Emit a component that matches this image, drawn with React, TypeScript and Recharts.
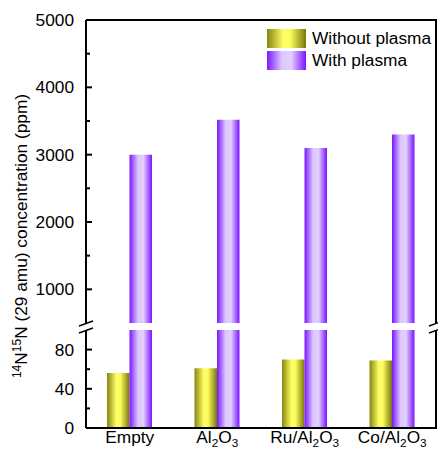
import { BarChart, Bar, XAxis, YAxis } from 'recharts'

const categories = ['Empty', 'Al2O3', 'Ru/Al2O3', 'Co/Al2O3']
const withoutPlasma = [56, 61, 70, 69]
const withPlasma = [3000, 3520, 3100, 3300]

const upperTicks = [1000, 1500, 2000, 2500, 3000, 3500, 4000, 4500, 5000]
const upperMajor = [1000, 2000, 3000, 4000, 5000]
const lowerTicks = [0, 20, 40, 60, 80]
const lowerMajor = [0, 40, 80]

const AXIS_X = 86
const RIGHT_X = 436
const FS = 17.3
const FONT = 'Arial, "Liberation Sans", sans-serif'

const upperData = categories.map((name, i) => ({ name, without: null, with: withPlasma[i] }))
const lowerData = categories.map((name, i) => ({ name, without: withoutPlasma[i], with: withPlasma[i] }))

const makeYTick = (major: number[]) => (props: any) => {
  const { y, payload } = props
  const isMajor = major.includes(payload.value)
  return (
    <g>
      <line x1={AXIS_X} x2={AXIS_X + (isMajor ? 6 : 4)} y1={y} y2={y} stroke="#000" strokeWidth={2} />
      {isMajor && (
        <text x={74} y={y + 6} textAnchor="end" fontSize={FS} fontFamily={FONT} fill="#000">
          {payload.value}
        </text>
      )}
    </g>
  )
}

// split "Al2O3" into text with subscript digits
const renderChem = (label: string, size: number) => {
  const parts = label.match(/\d+|\D+/g) || []
  let shifted = false
  return parts.map((p, i) => {
    if (/\d/.test(p)) {
      shifted = true
      return (
        <tspan key={i} fontSize={size * 0.68} dy={4}>
          {p}
        </tspan>
      )
    }
    const dy = shifted ? -4 : 0
    shifted = false
    return (
      <tspan key={i} dy={dy}>
        {p}
      </tspan>
    )
  })
}

const XTick = (props: any) => {
  const { x, y, payload } = props
  return (
    <text x={x} y={y + 11} textAnchor="middle" fontSize={FS} fontFamily={FONT} fill="#000">
      {renderChem(payload.value, FS)}
    </text>
  )
}

const Defs = () => (
  <defs>
    <linearGradient id="gYellow" x1="0" y1="0" x2="1" y2="0">
      <stop offset="0%" stopColor="#86860f" />
      <stop offset="42%" stopColor="#ffff66" />
      <stop offset="60%" stopColor="#fbfb5e" />
      <stop offset="100%" stopColor="#77770a" />
    </linearGradient>
    <linearGradient id="gPurple" x1="0" y1="0" x2="1" y2="0">
      <stop offset="0%" stopColor="#7a18ff" />
      <stop offset="38%" stopColor="#dcc6ff" />
      <stop offset="62%" stopColor="#e2d0ff" />
      <stop offset="100%" stopColor="#7a14ff" />
    </linearGradient>
  </defs>
)

const legendItems = [
  { label: 'Without plasma', bg: 'linear-gradient(90deg, #86860f 0%, #ffff66 42%, #fbfb5e 60%, #77770a 100%)' },
  { label: 'With plasma', bg: 'linear-gradient(90deg, #7a18ff 0%, #dcc6ff 38%, #e2d0ff 62%, #7a14ff 100%)' },
]

export default function App() {
  return (
    <div style={{ position: 'absolute', left: 0, top: 0, width: 438, height: 450, background: '#fff', fontFamily: FONT }}>
      <div style={{ position: 'absolute', left: 0, top: 0 }}>
        <BarChart width={438} height={323} data={upperData} margin={{ top: 20, right: 438 - RIGHT_X, bottom: 0, left: 0 }} barSize={22.5} barGap={0}>
          <Defs />
          <XAxis dataKey="name" hide />
          <YAxis
            width={AXIS_X}
            domain={[500, 5000]}
            ticks={upperTicks}
            interval={0}
            allowDataOverflow
            axisLine={{ stroke: '#000', strokeWidth: 2 }}
            tickLine={false}
            tick={makeYTick(upperMajor)}
          />
          <Bar dataKey="without" fill="url(#gYellow)" isAnimationActive={false} />
          <Bar dataKey="with" fill="url(#gPurple)" isAnimationActive={false} />
        </BarChart>
      </div>
      <div style={{ position: 'absolute', left: 0, top: 323 }}>
        <BarChart width={438} height={127} data={lowerData} margin={{ top: 7, right: 438 - RIGHT_X, bottom: 0, left: 0 }} barSize={22.5} barGap={0}>
          <Defs />
          <XAxis
            dataKey="name"
            height={22}
            axisLine={{ stroke: '#000', strokeWidth: 2 }}
            tickLine={false}
            tickSize={0}
            tickMargin={4}
            interval={0}
            tick={<XTick />}
          />
          <YAxis
            width={AXIS_X}
            domain={[0, 100]}
            ticks={lowerTicks}
            interval={0}
            allowDataOverflow
            axisLine={{ stroke: '#000', strokeWidth: 2 }}
            tickLine={false}
            tick={makeYTick(lowerMajor)}
          />
          <Bar dataKey="without" fill="url(#gYellow)" isAnimationActive={false} />
          <Bar dataKey="with" fill="url(#gPurple)" isAnimationActive={false} />
        </BarChart>
      </div>
      <svg width={438} height={450} style={{ position: 'absolute', left: 0, top: 0, pointerEvents: 'none' }}>
        <line x1={AXIS_X} x2={RIGHT_X + 1} y1={20} y2={20} stroke="#000" strokeWidth={2} />
        <line x1={RIGHT_X} x2={RIGHT_X} y1={20} y2={323} stroke="#000" strokeWidth={2} />
        <line x1={RIGHT_X} x2={RIGHT_X} y1={330} y2={429} stroke="#000" strokeWidth={2} />
        {[AXIS_X, RIGHT_X].map((cx) => (
          <g key={cx} stroke="#000" strokeWidth={1.5}>
            <line x1={cx - 7} y1={326} x2={cx + 7} y2={321} />
            <line x1={cx - 7} y1={333} x2={cx + 7} y2={328} />
          </g>
        ))}
        <text transform="translate(27,236) rotate(-90)" textAnchor="middle" fontSize={FS} fontFamily={FONT} fill="#000">
          <tspan fontSize={12} dy={-6}>14</tspan>
          <tspan dy={6}>N</tspan>
          <tspan fontSize={12} dy={-6}>15</tspan>
          <tspan dy={6}>N (29 amu) concentration (ppm)</tspan>
        </text>
      </svg>
      <div style={{ position: 'absolute', left: 267, top: 27 }}>
        {legendItems.map((it) => (
          <div key={it.label} style={{ display: 'flex', alignItems: 'center', height: 22 }}>
            <div style={{ width: 39, height: 19, background: it.bg }} />
            <span style={{ marginLeft: 6, fontSize: FS, color: '#000', lineHeight: '19px', whiteSpace: 'nowrap' }}>{it.label}</span>
          </div>
        ))}
      </div>
    </div>
  )
}
